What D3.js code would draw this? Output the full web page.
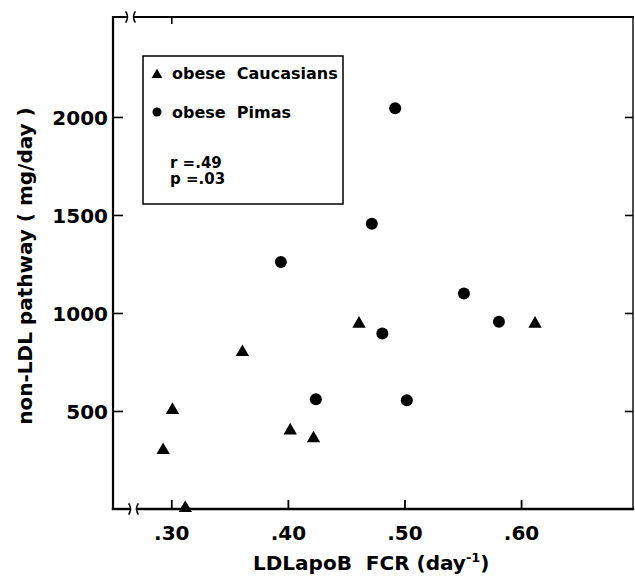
<!DOCTYPE html>
<html>
<head>
<meta charset="utf-8">
<title>non-LDL pathway vs LDLapoB FCR</title>
<script src="https://d3js.org/d3.v7.min.js"></script>
<style>
  body { margin: 0; background: #fff; }
  svg text { font-family: "DejaVu Sans", sans-serif; font-weight: bold; fill: #000; }
</style>
</head>
<body>
<svg width="635" height="576"></svg>
<script>
// obese Caucasians (triangles)
var caucFCR = [0.293, 0.301, 0.312, 0.361, 0.402, 0.422, 0.461, 0.612];
var caucNonLDL = [300, 505, 5, 800, 400, 360, 945, 945];

// obese Pimas (circles)
var pimaFCR = [0.394, 0.424, 0.472, 0.481, 0.492, 0.502, 0.551, 0.581];
var pimaNonLDL = [1260, 560, 1455, 895, 2045, 555, 1100, 955];

var xTicks = [0.30, 0.40, 0.50, 0.60];
var xTickLabels = [".30", ".40", ".50", ".60"];
var yTicks = [500, 1000, 1500, 2000];

var legendNames = ["obese  Caucasians", "obese  Pimas"];
var statLines = ["r =.49", "p =.03"];

var svg = d3.select("svg");

// plot frame in pixels
var pl = 113, pr = 633, pt = 17, pb = 509;

var x = d3.scaleLinear().domain([0.25, 0.696]).range([pl, pr]);
var y = d3.scaleLinear().domain([0, 2510]).range([pb, pt]);

// left axis, ticks point inward
var gy = svg.append("g")
    .attr("transform", "translate(" + pl + ",0)")
    .call(d3.axisLeft(y).tickValues(yTicks).tickSizeInner(-10).tickSizeOuter(0).tickPadding(5).tickFormat(d3.format("d")));
gy.select(".domain").remove();
gy.selectAll("line").attr("stroke-width", 1.6);
gy.selectAll("text").attr("font-size", 20).attr("dy", "0.36em");

// right axis, ticks only
var gr = svg.append("g")
    .attr("transform", "translate(" + pr + ",0)")
    .call(d3.axisRight(y).tickValues(yTicks).tickSizeInner(-8).tickSizeOuter(0).tickFormat(""));
gr.select(".domain").remove();
gr.selectAll("line").attr("stroke-width", 1.6);

// bottom axis
var gx = svg.append("g")
    .attr("transform", "translate(0," + pb + ")")
    .call(d3.axisBottom(x).tickValues(xTicks).tickSizeInner(-9).tickSizeOuter(0).tickPadding(17)
      .tickFormat(function(d, i) { return xTickLabels[i]; }));
gx.select(".domain").remove();
gx.selectAll("line").attr("stroke-width", 1.8);
gx.selectAll("text").attr("font-size", 20);

// top axis, ticks only
var gt = svg.append("g")
    .attr("transform", "translate(0," + pt + ")")
    .call(d3.axisTop(x).tickValues([0.30]).tickSizeInner(-7).tickSizeOuter(0).tickFormat(""));
gt.select(".domain").remove();
gt.selectAll("line").attr("stroke-width", 1.6);

// frame lines with axis breaks near the left corner
var frame = svg.append("g").attr("stroke", "#000").attr("fill", "none").attr("stroke-linecap", "square");
var brk = [127, 134];
frame.append("line").attr("x1", pl).attr("x2", pl).attr("y1", pt).attr("y2", pb).attr("stroke-width", 2.2);
frame.append("line").attr("x1", pr).attr("x2", pr).attr("y1", pt).attr("y2", pb).attr("stroke-width", 1.4);
frame.append("line").attr("x1", pl).attr("x2", brk[0]).attr("y1", pt).attr("y2", pt).attr("stroke-width", 2);
frame.append("line").attr("x1", brk[1]).attr("x2", pr).attr("y1", pt).attr("y2", pt).attr("stroke-width", 2);
frame.append("line").attr("x1", pl).attr("x2", brk[0] + 3).attr("y1", pb).attr("y2", pb).attr("stroke-width", 2.4);
frame.append("line").attr("x1", brk[1] + 3).attr("x2", pr).attr("y1", pb).attr("y2", pb).attr("stroke-width", 2.4);

// break marks: small curved strokes
[pt, pb].forEach(function(yy, k) {
  var off = k * 3;
  frame.append("path")
    .attr("d", "M" + (brk[0] - 1 + off) + "," + (yy - 5) + " q3,5 0,10")
    .attr("stroke-width", 1.5);
  frame.append("path")
    .attr("d", "M" + (brk[1] + 1 + off) + "," + (yy - 5) + " q-3,5 0,10")
    .attr("stroke-width", 1.5);
});

// data points
var tri = d3.symbol().type(d3.symbolTriangle).size(78);
var caucData = d3.zip(caucFCR, caucNonLDL);
var pimaData = d3.zip(pimaFCR, pimaNonLDL);

svg.append("g").selectAll("path")
  .data(caucData)
  .enter().append("path")
    .attr("d", tri)
    .attr("transform", function(d) { return "translate(" + x(d[0]) + "," + y(d[1]) + ")"; })
    .attr("fill", "#000");

svg.append("g").selectAll("circle")
  .data(pimaData)
  .enter().append("circle")
    .attr("cx", function(d) { return x(d[0]); })
    .attr("cy", function(d) { return y(d[1]); })
    .attr("r", 6)
    .attr("fill", "#000");

// legend box
var lg = svg.append("g").attr("transform", "translate(143,56)");
lg.append("rect")
    .attr("width", 200).attr("height", 148)
    .attr("fill", "#fff").attr("stroke", "#000").attr("stroke-width", 1.5);
lg.append("path")
    .attr("d", d3.symbol().type(d3.symbolTriangle).size(50))
    .attr("transform", "translate(14,19)");
lg.append("circle").attr("cx", 14).attr("cy", 56).attr("r", 4.5);
lg.selectAll("text.name")
  .data(legendNames)
  .enter().append("text")
    .attr("class", "name")
    .attr("x", 29)
    .attr("y", function(d, i) { return 23 + i * 39; })
    .attr("font-size", 16)
    .attr("xml:space", "preserve")
    .text(function(d) { return d; });
lg.selectAll("text.stat")
  .data(statLines)
  .enter().append("text")
    .attr("class", "stat")
    .attr("x", 27)
    .attr("y", function(d, i) { return 112 + i * 16; })
    .attr("font-size", 15)
    .text(function(d) { return d; });

// axis titles
svg.append("text")
    .attr("transform", "translate(32,266) rotate(-90)")
    .attr("text-anchor", "middle")
    .attr("font-size", 20)
    .attr("xml:space", "preserve")
    .text("non-LDL pathway ( mg/day )");

var xl = svg.append("text")
    .attr("x", 253)
    .attr("y", 570)
    .attr("font-size", 20)
    .attr("xml:space", "preserve");
xl.append("tspan").text("LDLapoB  FCR (day");
xl.append("tspan").attr("font-size", 13).attr("dy", -8).text("-1");
xl.append("tspan").attr("dy", 8).text(")");
</script>
</body>
</html>
